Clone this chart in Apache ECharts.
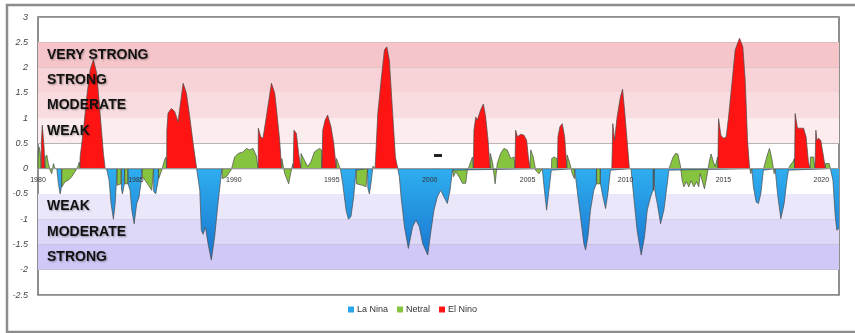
<!DOCTYPE html>
<html>
<head>
<meta charset="utf-8">
<script src="https://cdn.jsdelivr.net/npm/echarts@6/dist/echarts.min.js"></script>
<style>
  html, body { margin: 0; padding: 0; background: #fff; }
  #oni-chart { width: 855px; height: 333px; }
</style>
</head>
<body>
<div id="oni-chart"></div>
<script>
// ONI: [year, index]
var laNina = [
    [1980.96,0],[1981.04,-0.29],[1981.13,-0.5],[1981.2,-0.36],[1981.21,0],
    [1983.5,0],[1983.63,-0.23],[1983.73,-0.69],[1983.85,-1.0],[1983.94,-0.69],[1984.02,-0.16],[1984.03,0],
    [1984.25,0],[1984.26,-0.4],[1984.31,-0.5],[1984.41,-0.3],[1984.42,0],
    [1984.59,0],[1984.6,-0.3],[1984.7,-0.43],[1984.79,-0.82],[1984.91,-1.09],[1985.04,-0.69],[1985.16,-0.56],[1985.3,-0.16],[1985.31,0],
    [1985.9,0],[1985.91,-0.45],[1986.01,-0.5],[1986.14,-0.23],[1986.15,0],
    [1988.1,0],[1988.26,-0.43],[1988.34,-1.22],[1988.43,-1.3],[1988.55,-1.16],[1988.68,-1.48],[1988.85,-1.81],[1989.02,-1.35],[1989.19,-0.69],[1989.36,-0.1],[1989.4,0],
    [1995.44,0],[1995.56,-0.3],[1995.73,-0.82],[1995.85,-1.0],[1995.98,-0.95],[1996.12,-0.56],[1996.24,-0.03],[1996.25,0],
    [1996.83,0],[1996.84,-0.38],[1996.92,-0.5],[1997.0,-0.3],[1997.09,0],
    [1998.37,0],[1998.45,-0.16],[1998.54,-0.56],[1998.71,-1.15],[1998.91,-1.58],[1999.13,-1.15],[1999.3,-1.02],[1999.47,-1.15],[1999.64,-1.48],[1999.9,-1.71],[2000.07,-1.22],[2000.22,-0.82],[2000.39,-0.56],[2000.56,-0.43],[2000.73,-0.56],[2000.9,-0.69],[2001.04,-0.43],[2001.16,-0.03],[2001.17,0],
    [2005.75,0],[2005.84,-0.36],[2005.97,-0.82],[2006.09,-0.43],[2006.21,-0.03],[2006.22,0],
    [2007.4,0],[2007.53,-0.43],[2007.7,-0.95],[2007.87,-1.48],[2007.96,-1.61],[2008.08,-1.35],[2008.21,-0.82],[2008.38,-0.43],[2008.51,-0.3],[2008.52,0],
    [2008.71,0],[2008.72,-0.3],[2008.81,-0.49],[2008.98,-0.79],[2009.1,-0.49],[2009.23,-0.03],[2009.24,0],
    [2010.28,0],[2010.42,-0.56],[2010.59,-1.22],[2010.8,-1.71],[2010.97,-1.35],[2011.11,-0.82],[2011.28,-0.56],[2011.41,-0.43],[2011.42,0],
    [2011.49,0],[2011.5,-0.45],[2011.62,-0.69],[2011.79,-1.09],[2011.96,-0.82],[2012.13,-0.3],[2012.21,-0.03],[2012.22,0],
    [2016.45,0],[2016.53,-0.36],[2016.67,-0.66],[2016.79,-0.69],[2016.91,-0.49],[2017.04,-0.03],[2017.05,0],
    [2017.64,0],[2017.76,-0.49],[2017.93,-0.99],[2018.1,-0.69],[2018.24,-0.23],[2018.32,-0.03],[2018.33,0],
    [2020.46,0],[2020.59,-0.23],[2020.71,-0.95],[2020.79,-1.22],[2020.9,-1.18]
];
var neutral = [
    [1980.0,0],[1980.01,0.23],[1980.05,0.43],[1980.11,0.33],[1980.16,0],
    [1980.36,0],[1980.37,0.23],[1980.45,0.27],[1980.53,0.1],[1980.62,-0.03],[1980.7,-0.1],[1980.79,0.1],[1980.87,0],
    [1981.21,0],[1981.22,-0.36],[1981.38,-0.26],[1981.55,-0.23],[1981.72,-0.16],[1981.89,-0.06],[1982.03,0.04],[1982.11,0.13],[1982.14,0],
    [1984.03,0],[1984.04,-0.33],[1984.11,-0.36],[1984.24,-0.3],[1984.25,0],
    [1984.42,0],[1984.43,-0.3],[1984.58,-0.3],[1984.59,0],
    [1985.31,0],[1985.32,-0.16],[1985.47,-0.23],[1985.64,-0.33],[1985.81,-0.43],[1985.89,-0.45],[1985.9,0],
    [1986.15,0],[1986.16,-0.2],[1986.32,-0.03],[1986.46,0.17],[1986.54,0.23],[1986.57,0],
    [1989.4,0],[1989.41,-0.2],[1989.62,-0.16],[1989.87,-0.02],[1990.04,0.23],[1990.22,0.3],[1990.47,0.33],[1990.64,0.4],[1990.81,0.37],[1990.98,0.4],[1991.15,0.25],[1991.23,0.23],[1991.24,0],
    [1992.44,0],[1992.45,0.2],[1992.6,-0.1],[1992.8,-0.3],[1992.95,0],[1993.02,0.1],[1993.03,0],
    [1993.42,0],[1993.43,0.3],[1993.6,0.17],[1993.77,0.04],[1993.94,0.14],[1994.11,0.33],[1994.37,0.4],[1994.48,0.37],[1994.49,0],
    [1995.23,0],[1995.24,0.2],[1995.34,0.2],[1995.43,0],
    [1996.25,0],[1996.26,-0.3],[1996.32,-0.3],[1996.58,-0.33],[1996.75,-0.36],[1996.83,0],
    [1997.09,0],[1997.1,0.05],[1997.2,0.08],[1997.21,0],
    [2001.17,0],[2001.21,-0.16],[2001.33,-0.06],[2001.5,-0.16],[2001.67,-0.29],[2001.84,-0.29],[2001.92,-0.03],[2002.01,0.04],[2002.18,0.23],[2002.23,0],
    [2003.09,0],[2003.1,0.3],[2003.22,0.1],[2003.34,-0.3],[2003.45,0.1],[2003.62,0.3],[2003.79,0.4],[2003.96,0.37],[2004.14,0.2],[2004.31,0.23],[2004.35,0],
    [2005.12,0],[2005.16,0.37],[2005.29,0.23],[2005.41,-0.03],[2005.58,-0.1],[2005.75,0],
    [2006.22,0],[2006.23,0.2],[2006.35,0.23],[2006.5,0.2],[2006.52,0],
    [2007.0,0],[2007.02,0.27],[2007.16,0.1],[2007.28,-0.1],[2007.39,-0.2],[2007.4,0],
    [2008.52,0],[2008.53,-0.3],[2008.7,-0.3],[2008.71,0],
    [2011.42,0],[2011.43,-0.43],[2011.48,-0.45],[2011.49,0],
    [2012.22,0],[2012.3,-0.03],[2012.43,0.23],[2012.55,0.3],[2012.67,0.29],[2012.81,0.04],[2012.89,-0.23],[2012.98,-0.36],[2013.11,-0.26],[2013.23,-0.36],[2013.35,-0.24],[2013.49,-0.36],[2013.63,-0.26],[2013.74,-0.36],[2013.81,-0.1],[2013.95,-0.29],[2014.03,-0.4],[2014.15,-0.16],[2014.29,0.17],[2014.37,0.29],[2014.49,0.13],[2014.58,0.04],[2014.7,0.23],[2014.71,0],
    [2016.34,0],[2016.4,-0.1],[2016.45,0],
    [2017.05,0],[2017.21,0.23],[2017.35,0.4],[2017.47,0.2],[2017.59,-0.1],[2017.64,0],
    [2018.33,0],[2018.41,0.07],[2018.54,0.13],[2018.62,0.2],[2018.63,0],
    [2019.43,0],[2019.44,0.23],[2019.6,0.23],[2019.67,0],
    [2020.2,0],[2020.21,0.1],[2020.4,0.1],[2020.46,0]
];
var elNino = [
    [1980.16,0],[1980.17,0.5],[1980.22,0.86],[1980.31,0.43],[1980.36,0],
    [1982.14,0],[1982.15,0.23],[1982.32,0.76],[1982.49,1.42],[1982.66,1.95],[1982.83,2.16],[1983.0,1.88],[1983.17,1.09],[1983.34,0.3],[1983.43,0],
    [1986.57,0],[1986.58,0.76],[1986.64,1.1],[1986.81,1.19],[1986.98,1.13],[1987.15,0.93],[1987.24,0.96],[1987.41,1.69],[1987.58,1.49],[1987.75,1.02],[1987.92,0.5],[1988.09,0.04],[1988.1,0],
    [1991.24,0],[1991.25,0.8],[1991.37,0.63],[1991.49,0.6],[1991.66,1.03],[1991.92,1.69],[1992.09,1.49],[1992.22,1.02],[1992.34,0.56],[1992.43,0.04],[1992.44,0],
    [1993.03,0],[1993.07,0.76],[1993.19,0.7],[1993.31,0.3],[1993.41,0.04],[1993.42,0],
    [1994.49,0],[1994.54,0.76],[1994.66,0.96],[1994.79,1.06],[1994.96,0.83],[1995.1,0.5],[1995.22,0.04],[1995.23,0],
    [1997.21,0],[1997.26,0.37],[1997.35,1.09],[1997.52,1.75],[1997.69,2.35],[1997.81,2.41],[1997.94,2.15],[1998.11,1.09],[1998.25,0.23],[1998.37,0],
    [2002.23,0],[2002.26,0.76],[2002.35,1.02],[2002.43,0.96],[2002.6,1.16],[2002.74,1.28],[2002.86,1.02],[2002.98,0.56],[2003.08,0.04],[2003.09,0],
    [2004.35,0],[2004.39,0.76],[2004.48,0.63],[2004.65,0.68],[2004.82,0.66],[2004.95,0.56],[2005.04,0.23],[2005.11,0.04],[2005.12,0],
    [2006.52,0],[2006.55,0.63],[2006.65,0.83],[2006.77,0.89],[2006.89,0.63],[2006.99,0.1],[2007.0,0],
    [2009.3,0],[2009.35,0.89],[2009.44,0.56],[2009.57,1.02],[2009.74,1.42],[2009.85,1.57],[2009.95,1.16],[2010.08,0.56],[2010.19,0.04],[2010.2,0],
    [2014.71,0],[2014.75,0.99],[2014.87,0.66],[2015.0,0.6],[2015.14,0.63],[2015.26,1.02],[2015.43,1.68],[2015.6,2.35],[2015.82,2.58],[2015.99,2.41],[2016.11,1.75],[2016.23,0.56],[2016.33,0.04],[2016.34,0],
    [2018.63,0],[2018.66,1.09],[2018.78,0.8],[2018.92,0.8],[2019.09,0.8],[2019.22,0.63],[2019.34,0.13],[2019.43,0],
    [2019.67,0],[2019.72,0.76],[2019.77,0.56],[2019.85,0.6],[2019.97,0.56],[2020.07,0.33],[2020.19,0.04],[2020.2,0]
];

// strength bands
var bandNames = ['VERY STRONG', 'STRONG', 'MODERATE', 'WEAK', 'WEAK', 'MODERATE', 'STRONG'];
var bandFrom = [2, 1.5, 1, 0.5, -0.5, -1, -1.5];
var bandTo = [2.5, 2, 1.5, 1, -1, -1.5, -2];
var bandColors = ['#F5C5CA', '#F7D2D6', '#F9DCDF', '#FCECED', '#EAE7FA', '#DDD8F8', '#D0C8F6'];

var legendNames = ['La Nina', 'Netral', 'El Nino'];

var bandAreas = [];
var bandTexts = [];
for (var i = 0; i < bandNames.length; i++) {
    bandAreas.push([
        {yAxis: bandFrom[i], itemStyle: {color: bandColors[i], opacity: 1}},
        {yAxis: bandTo[i]}
    ]);
    // labels go in a second layer so they sit on top of the areas
    bandTexts.push([
        {yAxis: bandFrom[i], name: bandNames[i], itemStyle: {color: 'rgba(0,0,0,0)'}},
        {yAxis: bandTo[i]}
    ]);
}

var chart = echarts.init(document.getElementById('oni-chart'));
var lineBorder = {color: '#4a4a4a', width: 0.7};
var option = {
    animation: false,
    textStyle: {fontFamily: 'Liberation Sans'},
    grid: {left: 38, top: 17, right: 16, bottom: 38, show: true, borderColor: '#6a6a6a', borderWidth: 1.5},
    graphic: [
        {type: 'rect', shape: {x: 7, y: 5, width: 860, height: 327}, style: {fill: 'none', stroke: '#8c8c8c', lineWidth: 2.5}, z: 100},
        {type: 'rect', shape: {x: 434, y: 154, width: 8, height: 3}, style: {fill: '#222'}, z: 100}
    ],
    legend: {
        data: legendNames,
        bottom: 14,
        left: 343,
        icon: 'rect',
        itemWidth: 6,
        itemHeight: 6,
        itemGap: 9,
        textStyle: {fontSize: 9, color: '#333', padding: [0, 0, 0, -2]}
    },
    xAxis: {
        type: 'value',
        z: 10,
        min: 1980,
        max: 2020.9,
        interval: 5,
        position: 'bottom',
        offset: -126.4,
        axisLine: {onZero: false, lineStyle: {color: '#999', width: 1}},
        axisTick: {show: false},
        splitLine: {show: false},
        axisLabel: {
            fontSize: 7,
            color: '#333',
            margin: 8,
            formatter: function (v) { return v % 5 === 0 ? String(v) : ''; }
        }
    },
    yAxis: {
        type: 'value',
        min: -2.5,
        max: 3,
        interval: 0.5,
        axisLine: {show: false},
        axisTick: {show: false},
        splitLine: {lineStyle: {color: '#a3a3a3', width: 1}},
        axisLabel: {fontSize: 9, fontStyle: 'italic', color: '#444', margin: 10}
    },
    series: [
        {
            name: 'bands',
            type: 'line',
            data: [],
            z: 1,
            silent: true,
            markArea: {z: 1, silent: true, label: {show: false}, data: bandAreas}
        },
        {
            name: 'Netral',
            type: 'line',
            data: neutral,
            z: 3,
            symbol: 'none',
            color: '#86C440',
            lineStyle: lineBorder,
            areaStyle: {color: '#86C440', opacity: 1}
        },
        {
            name: 'La Nina',
            type: 'line',
            data: laNina,
            z: 3,
            symbol: 'none',
            color: '#2AA4EA',
            lineStyle: lineBorder,
            areaStyle: {
                opacity: 1,
                color: new echarts.graphic.LinearGradient(0, 0, 0, 1, [
                    {offset: 0, color: '#2EAEF0'},
                    {offset: 1, color: '#1A74CE'}
                ])
            }
        },
        {
            name: 'El Nino',
            type: 'line',
            data: elNino,
            z: 3,
            symbol: 'none',
            color: '#FF1414',
            lineStyle: lineBorder,
            areaStyle: {color: '#FF1414', opacity: 1}
        },
        {
            name: 'band labels',
            type: 'line',
            data: [],
            z: 10,
            silent: true,
            markArea: {
                z: 10,
                silent: true,
                label: {
                    show: true,
                    position: 'insideLeft',
                    distance: 9,
                    fontSize: 14,
                    fontWeight: 'bold',
                    color: '#111',
                    textShadowColor: 'rgba(0,0,0,0.35)',
                    textShadowBlur: 2,
                    textShadowOffsetX: 1,
                    textShadowOffsetY: 1
                },
                data: bandTexts
            }
        }
    ]
};
chart.setOption(option);
</script>
</body>
</html>
